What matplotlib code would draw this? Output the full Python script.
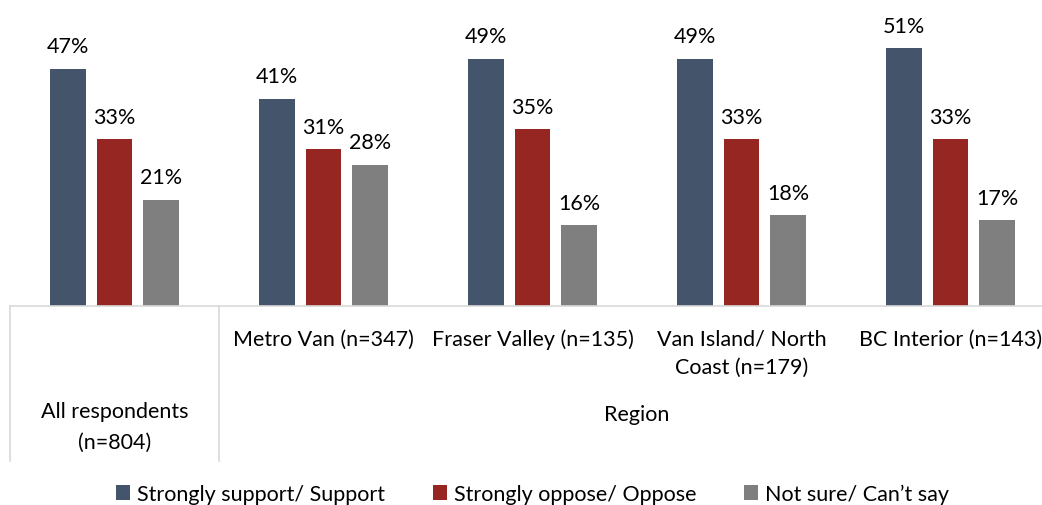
import numpy as np
import matplotlib.pyplot as plt
from matplotlib.patches import Patch

plt.rcParams['font.family'] = ['Lato', 'DejaVu Sans']

categories = ['', 'Metro Van (n=347)', 'Fraser Valley (n=135)',
              'Van Island/ North\nCoast (n=179)', 'BC Interior (n=143)']
series_names = ['Strongly support/ Support', 'Strongly oppose/ Oppose', 'Not sure/ Can\u2019t say']
support = [47, 41, 49, 49, 51]
oppose = [33, 31, 35, 33, 33]
not_sure = [21, 28, 16, 18, 17]
colors = ['#44546A', '#962622', '#7F7F7F']

W, H = 1042, 506
fig = plt.figure(figsize=(W / 100, H / 100), dpi=100)
fs = 15.5

# axes: baseline at y=307px, left edge x=10, category width 209px (last one runs off the picture)
base_px = 307
ymax = 55
px_per = 5.05
ax_h = ymax * px_per
ax = fig.add_axes([10 / W, (H - base_px) / H, 5 * 209 / W, ax_h / H])
ax.set_xlim(-0.5, 4.5)
ax.set_ylim(0, ymax)

x = np.arange(len(categories))
step = 0.223
bw = 0.172
for i, (vals, c) in enumerate(zip([support, oppose, not_sure], colors)):
    bars = ax.bar(x + (i - 1) * step, vals, width=bw, color=c, label=series_names[i])
    for b, v in zip(bars, vals):
        ax.annotate(f'{v}%', (b.get_x() + b.get_width() / 2, v), xytext=(0, 9),
                    textcoords='offset points', ha='center', va='bottom',
                    fontsize=fs, color='#000000')

for s in ['top', 'right', 'left']:
    ax.spines[s].set_visible(False)
ax.spines['bottom'].set_color('#D9D9D9')
ax.spines['bottom'].set_linewidth(1.2)
ax.set_xticks([])
ax.set_yticks([])

def ay(px):
    # pixel row in the picture -> axes fraction
    return (base_px - px) / ax_h

trans = ax.get_xaxis_transform()
# separator lines under the axis
for xv in [-0.5, 0.5]:
    ax.plot([xv, xv], [0, ay(462)], transform=trans, color='#D9D9D9', lw=1.2,
            clip_on=False)

# category labels, one text per line (rows at 340 and 368 px)
for xi, lab in zip(x[1:], categories[1:]):
    for row, line in zip([340, 368], lab.split('\n')):
        ax.text(xi, ay(row), line, transform=trans, ha='center', va='center', fontsize=fs)
ax.text(0, ay(412), 'All respondents', transform=trans, ha='center', va='center', fontsize=fs)
ax.text(0, ay(443), '(n=804)', transform=trans, ha='center', va='center', fontsize=fs)
ax.text(2.5, ay(415), 'Region', transform=trans, ha='center', va='center', fontsize=fs)

handles = [Patch(facecolor=c, edgecolor='none') for c in colors]
fig.legend(handles, series_names, loc='center', bbox_to_anchor=(0.511, 11 / H), ncol=3,
           frameon=False, fontsize=fs, handlelength=0.65, handleheight=0.65,
           handletextpad=0.33, columnspacing=2.2, borderaxespad=0, borderpad=0)

fig.savefig('out.png', dpi=100)
